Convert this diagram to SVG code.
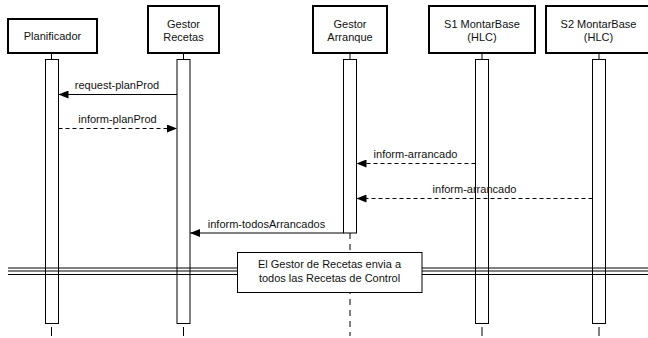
<svg xmlns="http://www.w3.org/2000/svg" width="648" height="338" viewBox="0 0 648 338">
<defs>
<marker id="ah" viewBox="0 0 10 8" refX="10" refY="4" markerWidth="10" markerHeight="8" markerUnits="userSpaceOnUse" orient="auto">
<path d="M0,0 L10,4 L0,8 Z" fill="#000"/>
</marker>
<style>
text{font-family:"Liberation Sans",Arial,sans-serif;font-size:11px;fill:#111;}
.c{text-anchor:middle;}
.box{fill:#fff;stroke:#000;stroke-width:2;}
.bar{fill:#fff;stroke:#000;stroke-width:1;}
.ln{stroke:#000;stroke-width:1;fill:none;}
.msg{stroke:#000;stroke-width:1;fill:none;marker-end:url(#ah);}
.dash{stroke-dasharray:4,3;}
</style>
</defs>
<rect width="648" height="338" fill="#fff"/>

<g id="planificador">
<rect class="box" x="8" y="19" width="89" height="34"/>
<text class="c" x="52.5" y="40">Planificador</text>
<line class="ln" x1="51.5" y1="53" x2="51.5" y2="59"/>
<rect class="bar" x="45.5" y="59.5" width="13" height="264"/>
<line class="ln" x1="51.5" y1="327" x2="51.5" y2="336"/>
</g>

<g id="gestor-recetas">
<rect class="box" x="148" y="6" width="71" height="47"/>
<text class="c" x="183.5" y="28">Gestor</text>
<text class="c" x="183.5" y="41">Recetas</text>
<line class="ln" x1="183.5" y1="53" x2="183.5" y2="59"/>
<rect class="bar" x="177" y="59.5" width="13" height="264"/>
<line class="ln" x1="183.5" y1="327" x2="183.5" y2="336"/>
</g>

<g id="gestor-arranque">
<rect class="box" x="313" y="6" width="74" height="47"/>
<text class="c" x="350" y="28">Gestor</text>
<text class="c" x="350" y="41">Arranque</text>
<line class="ln" x1="350" y1="53" x2="350" y2="59"/>
<rect class="bar" x="343.5" y="59.5" width="13" height="173.5"/>
<line class="ln" x1="350" y1="233" x2="350" y2="336" stroke-dasharray="6,5"/>
</g>

<g id="s1-montarbase">
<rect class="box" x="429" y="6" width="106" height="47"/>
<text class="c" x="482" y="28">S1 MontarBase</text>
<text class="c" x="482" y="41">(HLC)</text>
<line class="ln" x1="482" y1="53" x2="482" y2="59"/>
<rect class="bar" x="475.5" y="59.5" width="13" height="264"/>
<line class="ln" x1="482" y1="327" x2="482" y2="336"/>
</g>

<g id="s2-montarbase">
<rect class="box" x="546" y="6" width="106" height="47"/>
<text class="c" x="598.5" y="28">S2 MontarBase</text>
<text class="c" x="598.5" y="41">(HLC)</text>
<line class="ln" x1="599" y1="53" x2="599" y2="59"/>
<rect class="bar" x="592.5" y="59.5" width="13" height="264"/>
<line class="ln" x1="599" y1="327" x2="599" y2="336"/>
</g>

<g id="connectors">
<line class="msg" x1="177" y1="94.5" x2="58.5" y2="94.5"/>
<text class="c" x="117" y="89">request-planProd</text>
<line class="msg dash" x1="58.5" y1="128.5" x2="177" y2="128.5"/>
<text class="c" x="117.5" y="123">inform-planProd</text>
<line class="msg dash" x1="475.5" y1="163.5" x2="356.5" y2="163.5"/>
<text class="c" x="415.5" y="158">inform-arrancado</text>
<line class="msg dash" x1="592.5" y1="198.5" x2="356.5" y2="198.5"/>
<text class="c" x="474.5" y="193">inform-arrancado</text>
<line class="msg" x1="343.5" y1="233" x2="190" y2="233"/>
<text class="c" x="266.5" y="228">inform-todosArrancados</text>
</g>

<g id="nota">
<line class="ln" x1="8" y1="268" x2="237" y2="268"/>
<line class="ln" x1="8" y1="271" x2="237" y2="271"/>
<line class="ln" x1="8" y1="274.5" x2="237" y2="274.5"/>
<line class="ln" x1="422" y1="268" x2="648" y2="268"/>
<line class="ln" x1="422" y1="271" x2="648" y2="271"/>
<line class="ln" x1="422" y1="274.5" x2="648" y2="274.5"/>
<rect x="237.5" y="252.5" width="184.5" height="40" fill="#fff" stroke="#000" stroke-width="1"/>
<text class="c" x="329.5" y="268">El Gestor de Recetas envia a</text>
<text class="c" x="329.5" y="282">todos las Recetas de Control</text>
</g>
</svg>
